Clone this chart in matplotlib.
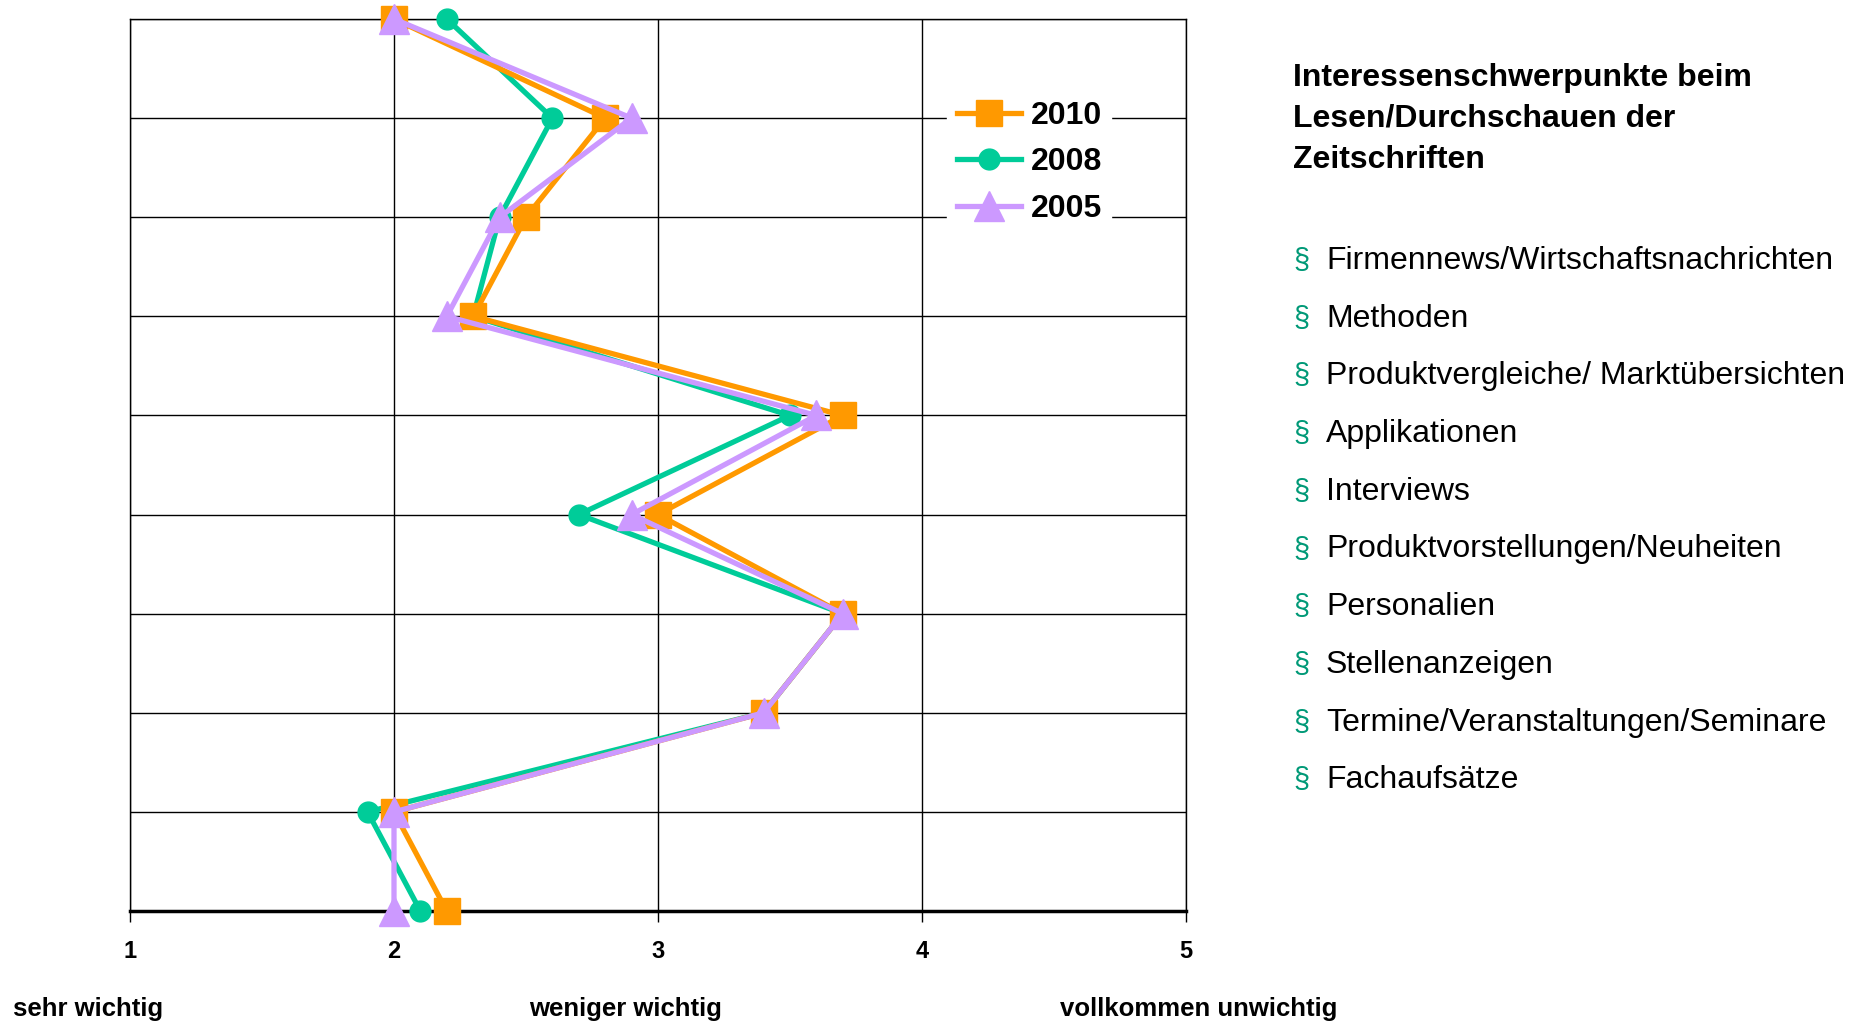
import matplotlib
matplotlib.use("Agg")
import matplotlib.pyplot as plt

plt.rcParams['font.family'] = ['Liberation Sans', 'DejaVu Sans']

# rows from top (0) to bottom (9), values on the 1..5 scale
rows = list(range(10))
v2010 = [2.0, 2.8, 2.5, 2.3, 3.7, 3.0, 3.7, 3.4, 2.0, 2.2]
v2008 = [2.2, 2.6, 2.4, 2.3, 3.5, 2.7, 3.7, 3.4, 1.9, 2.1]
v2005 = [2.0, 2.9, 2.4, 2.2, 3.6, 2.9, 3.7, 3.4, 2.0, 2.0]

items = ["Firmennews/Wirtschaftsnachrichten", "Methoden",
         "Produktvergleiche/ Marktübersichten", "Applikationen", "Interviews",
         "Produktvorstellungen/Neuheiten", "Personalien", "Stellenanzeigen",
         "Termine/Veranstaltungen/Seminare", "Fachaufsätze"]
title = "Interessenschwerpunkte beim\nLesen/Durchschauen der\nZeitschriften"
xticks = [1, 2, 3, 4, 5]
scale_labels = ["sehr wichtig", "weniger wichtig", "vollkommen unwichtig"]

fig = plt.figure(figsize=(18.6, 10.25), dpi=100)
ax = fig.add_axes([130/1860, 1 - 911/1025, (1186-130)/1860, (911-19)/1025])

l08, = ax.plot(v2008, rows, color='#00CC99', lw=3.8, marker='o', ms=15,
               clip_on=False, zorder=3, label='2008')
l10, = ax.plot(v2010, rows, color='#FF9900', lw=3.8, marker='s', ms=19,
               clip_on=False, zorder=4, label='2010')
l05, = ax.plot(v2005, rows, color='#CC99FF', lw=3.8, marker='^', ms=21,
               clip_on=False, zorder=5, label='2005')

ax.set_xlim(1, 5)
ax.set_ylim(9, 0)
ax.set_yticks(rows)
ax.set_yticklabels([])
ax.tick_params(axis='y', length=0)
ax.set_xticks(xticks)
ax.set_xticklabels([str(t) for t in xticks], fontsize=17, fontweight='bold')
ax.tick_params(axis='x', length=8, width=1, pad=13)
ax.grid(True, color='black', lw=1)
for s in ['top', 'left', 'right']:
    ax.spines[s].set_linewidth(1)
ax.spines['bottom'].set_linewidth(2.5)

leg = ax.legend(handles=[l10, l08, l05], loc='upper left',
                bbox_to_anchor=(0.759, 0.937), frameon=True, framealpha=1,
                edgecolor='white', fontsize=23, handlelength=2.0,
                handletextpad=0.3, labelspacing=0.52, borderpad=0.3)
for t in leg.get_texts():
    t.set_fontweight('bold')
leg.set_zorder(6)

fig.text(1293/1860, 1 - 63/1025, title, fontsize=23, fontweight='bold',
         va='top', ha='left', linespacing=1.47)
for i, it in enumerate(items):
    y = 1 - (261 + i * 57.7) / 1025
    fig.text(1293/1860, y, "§", fontsize=21, color='#009977', va='center')
    fig.text(1326/1860, y, it, fontsize=23, va='center')

fig.text(13/1860, 1 - 1009/1025, scale_labels[0], fontsize=18.5,
         fontweight='bold', va='center', ha='left')
fig.text(626/1860, 1 - 1009/1025, scale_labels[1], fontsize=18.5,
         fontweight='bold', va='center', ha='center')
fig.text(1199/1860, 1 - 1009/1025, scale_labels[2], fontsize=18.5,
         fontweight='bold', va='center', ha='center')

fig.savefig('out.png', dpi=100)
